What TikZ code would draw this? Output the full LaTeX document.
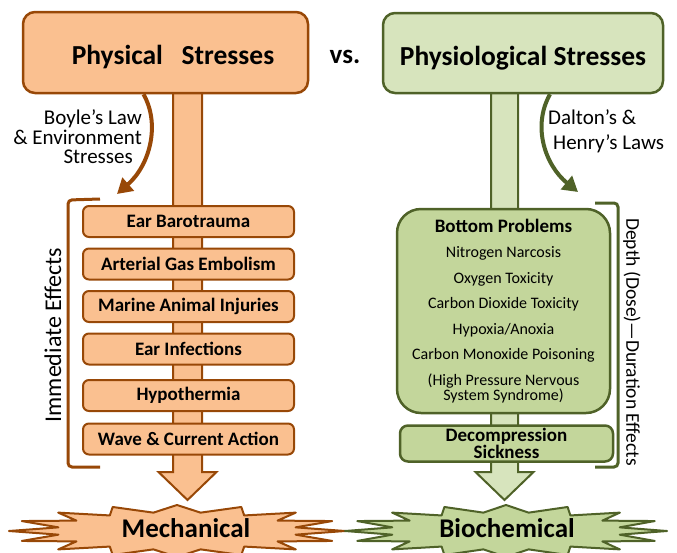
\documentclass[tikz,border=0pt]{standalone}
\usepackage{fontspec}
\setmainfont{Carlito}
\usetikzlibrary{arrows.meta, positioning}
\definecolor{orangeFill}{HTML}{FAC090}
\definecolor{orangeLine}{HTML}{984807}
\definecolor{oliveHead}{HTML}{D7E4BD}
\definecolor{oliveFill}{HTML}{C3D69B}
\definecolor{oliveLine}{HTML}{4F6228}

\begin{document}
\begin{tikzpicture}[x=1pt, y=-1pt,
  headL/.style={draw=orangeLine, line width=2.5pt, fill=orangeFill, rounded corners=12pt,
                minimum width=285pt, minimum height=81pt, text height=24pt, text depth=0pt,
                font=\fontsize{27.5}{30}\selectfont\bfseries},
  headR/.style={headL, draw=oliveLine, fill=oliveHead, minimum width=280pt, minimum height=80pt},
  effect/.style={draw=orangeLine, line width=2pt, fill=orangeFill, rounded corners=6pt,
                 minimum width=211pt, minimum height=31pt, inner sep=0pt,
                 font=\fontsize{19}{20}\selectfont\bfseries},
  problem/.style={draw=oliveLine, line width=2.5pt, fill=oliveFill, align=center},
  stemL/.style={draw=orangeLine, line width=2pt, fill=orangeFill, line join=miter},
  stemR/.style={draw=oliveLine, line width=2pt, fill=oliveHead, line join=miter},
  burstL/.style={draw=orangeLine, line width=2pt, fill=orangeFill, line join=round},
  burstR/.style={draw=oliveLine, line width=2pt, fill=oliveFill, line join=round},
  bendL/.style={-{Triangle[length=15pt,width=17pt]}, line width=4pt, draw=orangeLine},
  bendR/.style={bendL, draw=oliveLine},
  brace/.style={line width=3pt, rounded corners=4pt},
  note/.style={font=\fontsize{21}{19.5}\selectfont, inner sep=0pt},
  result/.style={font=\fontsize{27}{30}\selectfont\bfseries, inner sep=0pt}
]
\useasboundingbox (0,0) rectangle (677,552);
%% BURSTS
\draw[burstL] plot[domain=0:360, samples=33]
  ({177+168*(0.86+0.14*cos(16*\x))*cos(\x)}, {531+26*(0.86+0.14*cos(16*\x))*sin(\x)}) -- cycle;
\draw[burstR] plot[domain=0:360, samples=33]
  ({506+161*(0.86+0.14*cos(16*\x))*cos(\x)}, {531+26*(0.86+0.14*cos(16*\x))*sin(\x)}) -- cycle;
\node[result] (mech) at (186,528) {Mechanical};
\node[result] (bio)  at (507,528) {Biochemical};
%% STEMS
\draw[stemL] (173,92) -- (173,472) -- (158.5,472) -- (187.5,500) -- (216.5,472) -- (202,472) -- (202,92);
\draw[stemR] (491,92) -- (491,472) -- (475.5,472) -- (504.5,500) -- (533.5,472) -- (518,472) -- (518,92);
%% HEADERS
\node[headL] (physL) at (165.5,52.5) {\hspace*{15pt}Physical\ \ \ Stresses};
\node[headR] (physR) at (523,53)     {Physiological Stresses};
\node[result] (vs) at (345,57) {vs.};
%% PHYSICAL
\node[effect] (ear)  at (188.5,221.5)        {Ear Barotrauma};
\node[effect,below=9.5pt of ear]  (age)    {Arterial Gas Embolism};
\node[effect,below=9.5pt of age]  (marine) {Marine Animal Injuries};
\node[effect,below=9.5pt of marine] (infec) {Ear Infections};
\node[effect,below=13.5pt of infec] (hypo)  {Hypothermia};
\node[effect,below=10.5pt of hypo]  (wave)  {Wave \& Current Action};
\draw[brace, draw=orangeLine] (100,199) -- (68,200) -- (68,467) -- (100,467);
\node[font=\fontsize{24}{24}\selectfont, rotate=90] (imm) at (53,335) {Immediate Effects};
\coordinate (boyleTip) at (117,194);
\draw[bendL] ([xshift=-22pt]physL.south) .. controls +(17,30) and +(33,-29) .. (boyleTip);
\node[note, align=right, anchor=east] (boyle) at (142,137)
  {Boyle’s Law\\ \& Environment\\ Stresses\hspace*{9pt}};
%% PHYSIOLOGICAL
\node[problem, minimum width=213pt, minimum height=204pt, rounded corners=24pt,
      font=\fontsize{16}{25.5}\selectfont] (bottom) at (503.5,311)
  {{\fontsize{19}{20}\selectfont\bfseries Bottom Problems}\\
   Nitrogen Narcosis\\ Oxygen Toxicity\\ Carbon Dioxide Toxicity\\
   Hypoxia/Anoxia\\ Carbon Monoxide Poisoning\\
   (High Pressure Nervous\\[-10.5pt] System Syndrome)};
\node[problem, minimum width=213pt, minimum height=36pt, rounded corners=8pt, inner sep=0pt,
      font=\fontsize{19}{15}\selectfont\bfseries, below=10pt of bottom, xshift=3pt] (dcs)
  {Decompression\\ Sickness};
\draw[brace, draw=oliveLine] (595,203) -- (618,203) -- (618,467) -- (595,467);
\node[font=\fontsize{19.5}{19.5}\selectfont, rotate=-90] (depth) at (632,342) {Depth (Dose)—Duration Effects};
\coordinate (daltonTip) at (578,192);
\draw[bendR] ([xshift=27pt]physR.south) .. controls +(-18,32) and +(-33,-27) .. (daltonTip);
\node[note, align=left, anchor=west, font=\fontsize{21}{25}\selectfont] (dalton) at (548,131)
  {Dalton’s \&\\ \hspace*{5pt}Henry’s Laws};
\end{tikzpicture}
\end{document}
